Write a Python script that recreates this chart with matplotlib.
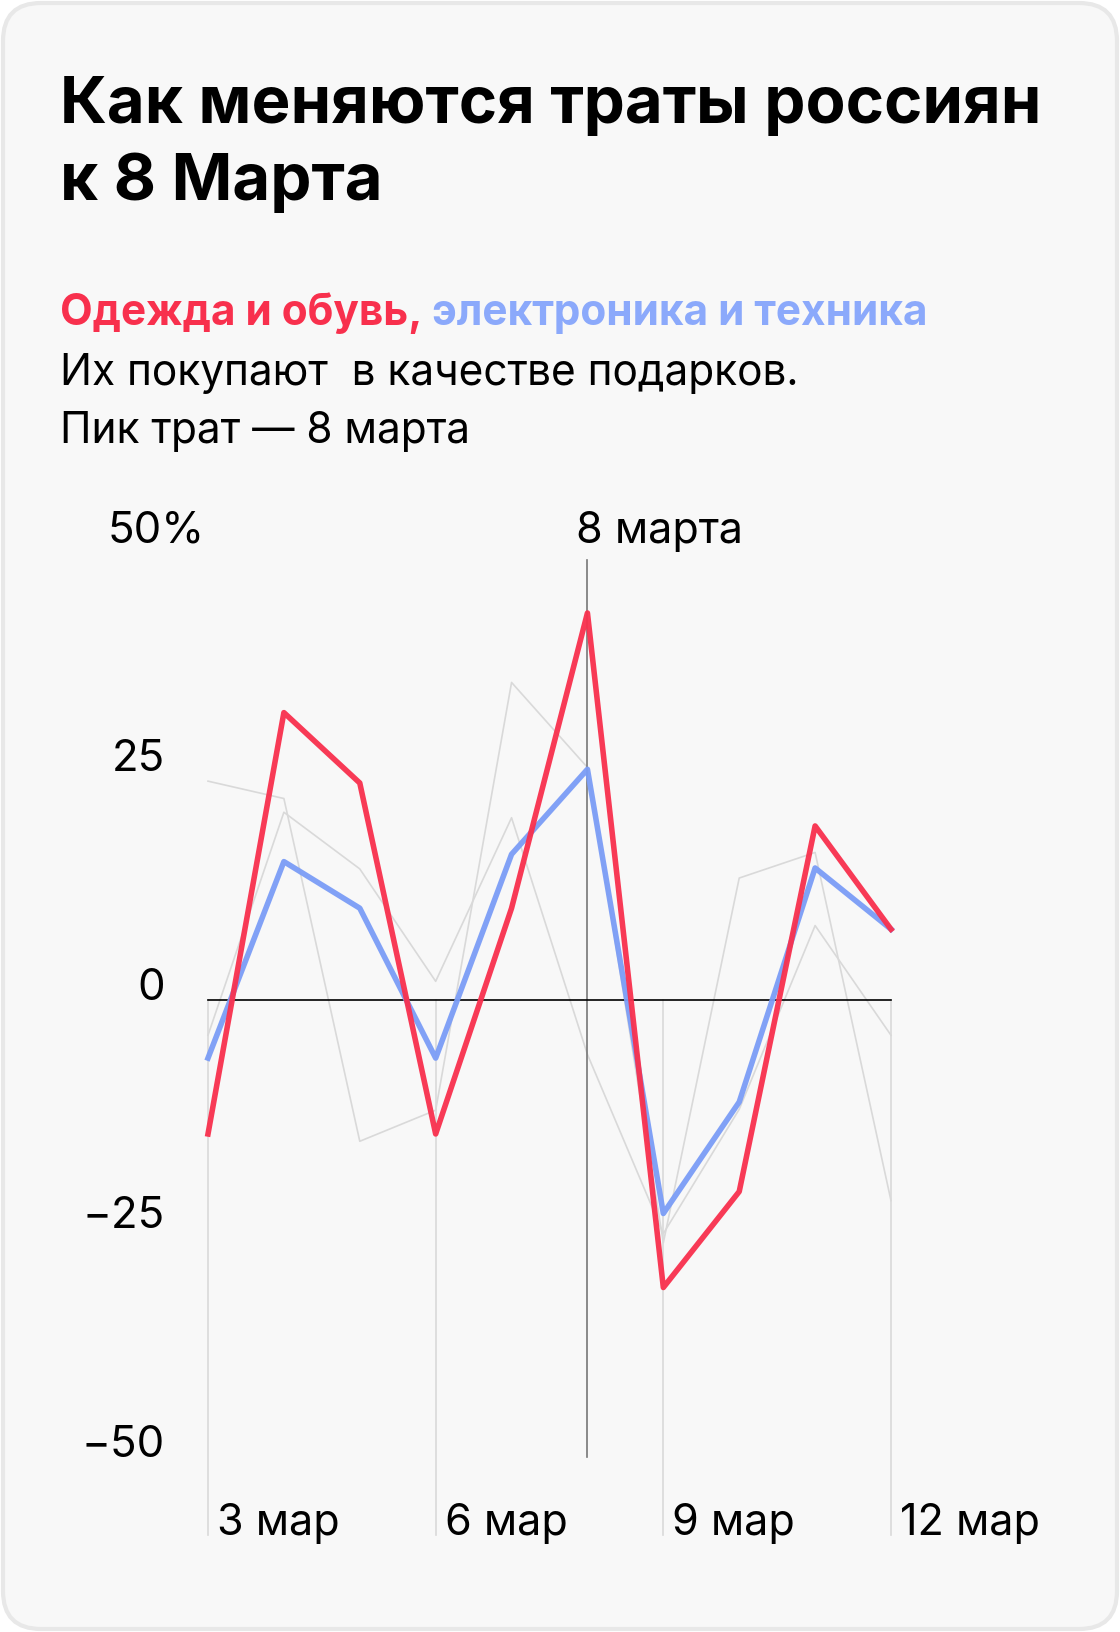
#!/usr/bin/env python3
"""
Spending change around 8 March: clothing vs electronics, daily % change.
"""

import matplotlib
matplotlib.use("Agg")
import matplotlib.pyplot as plt
import matplotlib.transforms as mtransforms
from matplotlib.patches import FancyBboxPatch

# --- data -------------------------------------------------------------
days = [3, 4, 5, 6, 7, 8, 9, 10, 11, 12]
clothes = [-14.7, 31.4, 23.7, -14.7, 10.0, 42.3, -31.5, -21.0, 19.0, 7.7]
electronics = [-6.4, 15.1, 10.0, -6.4, 15.9, 25.2, -23.4, -11.2, 14.4, 7.7]
otherA = [23.9, 22.0, -15.5, -12.1, 34.7, 25.4, -26.6, 13.3, 16.1, -22.0]
otherB = [-3.9, 20.5, 14.3, 2.0, 19.9, -6.0, -25.6, -12.0, 8.1, -3.9]

yTicks = [50, 25, 0, -25, -50]
yTickLabels = ["50%", "25", "0", "\u221225", "\u221250"]
xTicks = [3, 6, 9, 12]
xTickLabels = ["3 мар", "6 мар", "9 мар", "12 мар"]
markerDay = 8
markerLabel = "8 марта"

subRed = "Одежда и обувь,"
subBlue = " электроника и техника"
body1 = "Их покупают  в качестве подарков."
body2 = "Пик трат — 8 марта"

RED = "#f8304d"
BLUE = "#7b9df6"
BLUE_TEXT = "#8ba9fb"
GRAY = "#d9d9d9"

W, H = 1120, 1632
FONT = ["Inter", "DejaVu Sans"]


def fy(py):
    """pixel-from-top -> figure fraction"""
    return 1 - py / H


def fx(px):
    return px / W


fig = plt.figure(figsize=(W / 100, H / 100), dpi=100, facecolor="white")

# card background (behind the axes)
card = FancyBboxPatch((3, 3), W - 6, H - 6,
                      boxstyle="round,pad=0,rounding_size=38",
                      transform=mtransforms.IdentityTransform(),
                      facecolor="#f8f8f8", edgecolor="#e8e8e8", linewidth=3,
                      zorder=-10)
fig.patches.append(card)

# header text
fig.text(fx(60), fy(123), "Как меняются траты россиян", fontsize=47,
         fontweight="bold", family=FONT, va="baseline", ha="left")
fig.text(fx(60), fy(200), "к 8 Марта", fontsize=47,
         fontweight="bold", family=FONT, va="baseline", ha="left")

t1 = fig.text(fx(60), fy(325), subRed, fontsize=30.5, fontweight="bold",
              family=FONT, color=RED, va="baseline", ha="left")
renderer = fig.canvas.get_renderer()
bb = t1.get_window_extent(renderer)
fig.text(bb.x1 / W, fy(325), subBlue, fontsize=30.5, fontweight="bold",
         family=FONT, color=BLUE_TEXT, va="baseline", ha="left")

fig.text(fx(60), fy(385), body1, fontsize=30.5, family=FONT, va="baseline")
fig.text(fx(60), fy(443), body2, fontsize=30.5, family=FONT, va="baseline")

# chart axes: day 3 at x=208px, day 12 at x=891px; 0 at y=1000px, 9.14 px/unit
yTop, yBottom = 50, -60
pxPerUnit = 9.14
zeroPy = 999.6
axTop = zeroPy - yTop * pxPerUnit
axBottom = zeroPy - yBottom * pxPerUnit
ax = fig.add_axes([fx(208), fy(axBottom), fx(891) - fx(208), (axBottom - axTop) / H])
ax.set_xlim(days[0], days[-1])
ax.set_ylim(yBottom, yTop)
ax.set_axis_off()

# background series
ax.plot(days, otherA, color=GRAY, linewidth=1.2, clip_on=False, zorder=1)
ax.plot(days, otherB, color=GRAY, linewidth=1.2, clip_on=False, zorder=1)

# x tick guides and labels
tickBottom = -58.6
for d, lab in zip(xTicks, xTickLabels):
    ax.plot([d, d], [0, tickBottom], color=GRAY, linewidth=1.2,
            clip_on=False, zorder=1)
    tr = mtransforms.offset_copy(ax.transData, fig=fig, x=9, y=0, units="dots")
    ax.text(d, tickBottom, lab, transform=tr, fontsize=31, family=FONT,
            ha="left", va="baseline")

# marker line at 8 March
ax.plot([markerDay, markerDay], [48.1, -50], color="#777777", linewidth=1.2,
        clip_on=False, zorder=2)
trM = mtransforms.offset_copy(ax.transData, fig=fig, x=-11, y=0, units="dots")
ax.text(markerDay, 50, markerLabel, transform=trM, fontsize=31, family=FONT,
        ha="left", va="baseline")

# zero line
ax.plot([days[0], days[-1]], [0, 0], color="black", linewidth=1.2,
        clip_on=False, zorder=2)

# y tick labels, baseline at the value, right-aligned (the % hangs out)
trY = mtransforms.offset_copy(ax.get_yaxis_transform(), fig=fig, x=-43, y=0,
                              units="dots")
trPct = mtransforms.offset_copy(ax.get_yaxis_transform(), fig=fig, x=-3, y=0,
                                units="dots")
for v, lab in zip(yTicks, yTickLabels):
    ax.text(0, v, lab, transform=trPct if lab.endswith("%") else trY,
            fontsize=31.5, family=FONT, ha="right", va="baseline")

# main series
ax.plot(days, electronics, color=BLUE, linewidth=4.0, alpha=0.95,
        solid_joinstyle="round", clip_on=False, zorder=3)
ax.plot(days, clothes, color=RED, linewidth=4.0, alpha=0.95,
        solid_joinstyle="round", clip_on=False, zorder=4)

fig.savefig("out.png", dpi=100, facecolor=fig.get_facecolor())
